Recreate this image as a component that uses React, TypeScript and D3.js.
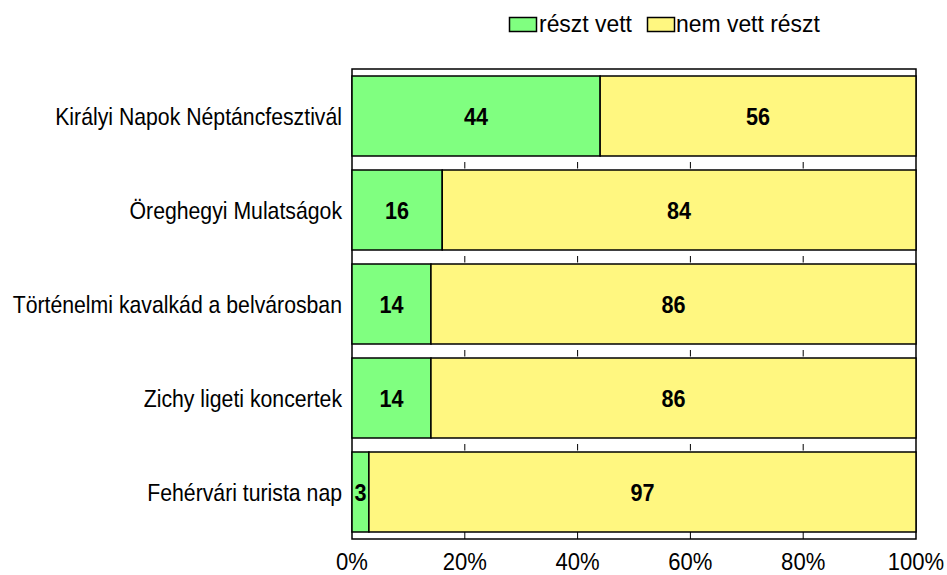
import React from "react";
import * as d3 from "d3";

const categories = [
  "Királyi Napok Néptáncfesztivál",
  "Öreghegyi Mulatságok",
  "Történelmi kavalkád a belvárosban",
  "Zichy ligeti koncertek",
  "Fehérvári turista nap",
];
const resztVett = [44, 16, 14, 14, 3];
const nemVett = [56, 84, 86, 86, 97];
const seriesNames = ["részt vett", "nem vett részt"];
const seriesColors = ["#80FF80", "#FFF780"];
const xTicks = [0, 20, 40, 60, 80, 100];

const W = 947;
const H = 575;
const FONT = "'Liberation Sans', Arial, sans-serif";

function T(props: { x: number; y: number; sx: number; children: React.ReactNode; [k: string]: any }) {
  const { x, y, sx, children, ...rest } = props;
  return (
    <text transform={`translate(${x},${y}) scale(${sx},1)`} {...rest}>{children}</text>
  );
}

export default function App() {
  const x0 = 352, x1 = 916, y0 = 69, y1 = 539;
  const x = d3.scaleLinear().domain([0, 100]).range([x0, x1]);
  const y = d3.scaleBand<string>().domain(categories).range([y0, y1]).paddingInner(0.149).paddingOuter(0.0745);
  const bw = y.bandwidth();
  const rows = categories.map((c, i) => {
    const vals = [resztVett[i], nemVett[i]];
    let acc = 0;
    return { c, segs: vals.map((v, k) => { const s = { k, v, a: acc, b: acc + v }; acc += v; return s; }) };
  });
  return (
    <svg width={W} height={H} style={{ position: "absolute", left: 0, top: 0, background: "#fff" }} fontFamily={FONT}>
      <rect x={0} y={0} width={W} height={H} fill="#fff" />
      {/* legend */}
      <g>
        <rect x={509.5} y={17.5} width={27} height={14} fill={seriesColors[0]} stroke="#000" strokeWidth={1.5} />
        <T x={539} y={32} sx={0.955} fontSize={24}>{seriesNames[0]}</T>
        <rect x={647.5} y={17.5} width={27} height={14} fill={seriesColors[1]} stroke="#000" strokeWidth={1.5} />
        <T x={676} y={32} sx={0.955} fontSize={24}>{seriesNames[1]}</T>
      </g>
      {/* plot frame */}
      <rect x={x0} y={y0} width={x1 - x0} height={y1 - y0} fill="#fff" stroke="#000" strokeWidth={1.5} />
      {/* bars */}
      {rows.map((r) =>
        r.segs.map((s) => (
          <rect key={r.c + s.k} x={x(s.a)} y={y(r.c)!} width={x(s.b) - x(s.a)} height={bw}
            fill={seriesColors[s.k]} stroke="#000" strokeWidth={1.5} />
        ))
      )}
      {/* ticks in gaps and bottom */}
      {categories.slice(1).map((c) =>
        xTicks.slice(1, -1).map((t) => (
          <line key={c + t} x1={x(t)} x2={x(t)} y1={y(c)! - 8} y2={y(c)! - 1.5} stroke="#000" strokeWidth={1} />
        ))
      )}
      {xTicks.slice(1, -1).map((t) => (
        <line key={"b" + t} x1={x(t)} x2={x(t)} y1={y1 - 7} y2={y1} stroke="#000" strokeWidth={1} />
      ))}
      {/* value labels */}
      {rows.map((r) =>
        r.segs.map((s) => (
          <T key={"v" + r.c + s.k} x={x((s.a + s.b) / 2)} y={y(r.c)! + bw / 2} sx={0.9} dy="0.36em"
            textAnchor="middle" fontWeight="bold" fontSize={24}>{s.v}</T>
        ))
      )}
      {/* category labels */}
      {categories.map((c) => (
        <T key={"c" + c} x={342} y={y(c)! + bw / 2} sx={0.885} dy="0.36em" textAnchor="end" fontSize={24}>{c}</T>
      ))}
      {/* x tick labels */}
      {xTicks.map((t) => (
        <T key={"t" + t} x={x(t)} y={570} sx={0.92} textAnchor="middle" fontSize={24}>{t + "%"}</T>
      ))}
    </svg>
  );
}
